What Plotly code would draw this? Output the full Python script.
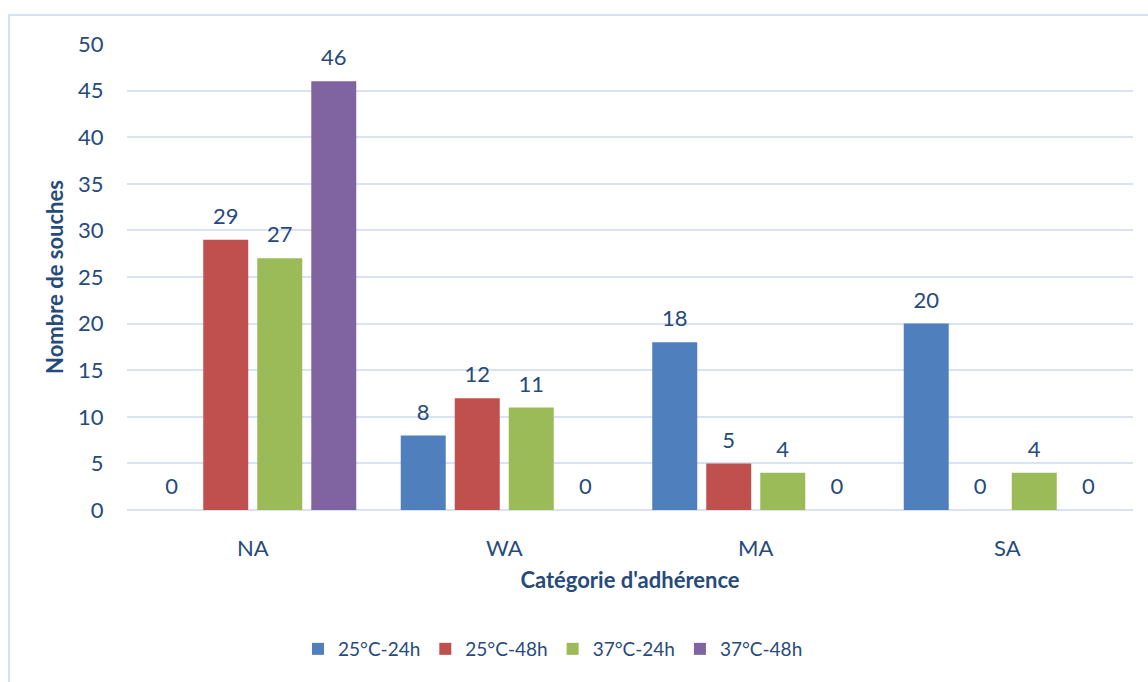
import plotly.graph_objects as go

# Adhesion categories and number of strains per incubation condition
categories = ["NA", "WA", "MA", "SA"]
series_names = ["25°C-24h", "25°C-48h", "37°C-24h", "37°C-48h"]
vals_25_24 = [0, 8, 18, 20]
vals_25_48 = [29, 12, 5, 0]
vals_37_24 = [27, 11, 4, 4]
vals_37_48 = [46, 0, 0, 0]
y_ticks = [0, 5, 10, 15, 20, 25, 30, 35, 40, 45, 50]

series_values = [vals_25_24, vals_25_48, vals_37_24, vals_37_48]
colors = ["#4f80bd", "#c0504d", "#9bbb59", "#8064a2"]

text_color = "#264a7c"
grid_color = "#d9e3f1"
font_family = "Lato, 'Open Sans', sans-serif"
fs = 22

W, H = 1148, 682
ml, mr, mt, mb = 127, 15, 44, 172

fig = go.Figure()

for name, vals, col in zip(series_names, series_values, colors):
    fig.add_trace(go.Bar(
        x=categories, y=vals, name=name,
        marker=dict(color=col, line=dict(width=0)),
        offsetgroup=name, alignmentgroup="g",
        hoverinfo="skip",
    ))

# value labels, placed above each bar in the same group slot
for name, vals in zip(series_names, series_values):
    fig.add_trace(go.Scatter(
        x=categories, y=vals, mode="markers+text",
        text=[str(v) for v in vals], textposition="top center",
        textfont=dict(size=fs, color=text_color, family=font_family),
        marker=dict(size=15, opacity=0),
        offsetgroup=name, alignmentgroup="g",
        showlegend=False, hoverinfo="skip", cliponaxis=False,
    ))

pw = W - ml - mr
ph = H - mt - mb
# outer chart frame
fig.add_shape(
    type="rect", xref="paper", yref="paper",
    x0=(9 - ml) / pw, x1=(W + 4 - ml) / pw,
    y0=(ph + mt - (H + 6)) / ph, y1=(ph + mt - 15) / ph,
    line=dict(color="#d6e2f2", width=2), fillcolor="rgba(0,0,0,0)", layer="below",
)

fig.update_layout(
    width=W, height=H,
    margin=dict(l=ml, r=mr, t=mt, b=mb),
    paper_bgcolor="white", plot_bgcolor="white",
    barmode="group", bargap=0.141, bargroupgap=0.167,
    scattermode="group", scattergap=0.141,
    font=dict(family=font_family, color=text_color, size=fs),
    showlegend=True,
    legend=dict(
        orientation="h", x=(553 - ml) / pw, xanchor="center",
        y=(ph + mt - 649) / ph, yanchor="middle",
        font=dict(size=19, color=text_color, family=font_family),
        itemwidth=30, tracegroupgap=0,
    ),
    xaxis=dict(
        showgrid=False, showline=False, zeroline=False,
        ticks="outside", ticklen=19, tickcolor="rgba(0,0,0,0)",
        tickfont=dict(size=fs, color=text_color),
        title=dict(text="<b>Catégorie d'adhérence</b>", standoff=12,
                   font=dict(size=fs, color=text_color)),
    ),
    yaxis=dict(
        range=[0, 50], tickvals=y_ticks,
        showgrid=True, gridcolor=grid_color, gridwidth=2,
        zeroline=True, zerolinecolor=grid_color, zerolinewidth=2,
        showline=False,
        ticks="outside", ticklen=18, tickcolor="rgba(0,0,0,0)",
        tickfont=dict(size=fs, color=text_color),
        title=dict(text="<b>Nombre de souches</b>", standoff=8,
                   font=dict(size=fs, color=text_color)),
    ),
)

fig.write_html("out.html")
